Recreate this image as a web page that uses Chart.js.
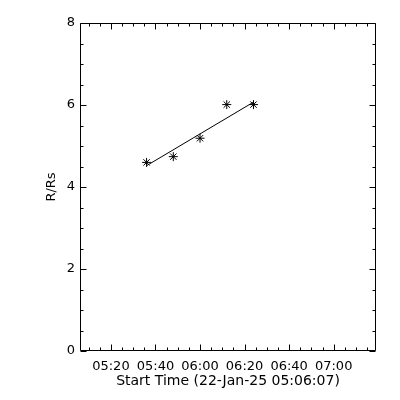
<!DOCTYPE html>
<html>
<head>
<meta charset="utf-8">
<script src="https://cdn.jsdelivr.net/npm/chart.js@4/dist/chart.umd.min.js"></script>
<style>
html,body{margin:0;padding:0;background:#fff;}
#c{display:block;}
</style>
</head>
<body>
<canvas id="c" width="400" height="400"></canvas>
<script>
// ---- data ----
const startTimeLabel = "22-Jan-25 05:06:07";
const obsTimes = ["05:36", "05:48", "06:00", "06:12", "06:24"];
const heights = [4.60, 4.74, 5.19, 6.01, 6.01];
const fitTimes = ["05:36", "06:24"];
const fitHeights = [4.52, 6.07];
const xTickLabels = ["05:20", "05:40", "06:00", "06:20", "06:40", "07:00"];
const yTickValues = [0, 2, 4, 6, 8];
const xRange = ["05:06:07", "07:19:00"];
const yRange = [0, 8];

function toMin(s) {
  const p = s.split(":").map(Number);
  return (p[0] - 5) * 60 + p[1] + (p[2] || 0) / 60;
}
function fromMin(m) {
  const h = 5 + Math.floor(m / 60);
  const mm = Math.round(m % 60);
  return String(h).padStart(2, "0") + ":" + String(mm).padStart(2, "0");
}
const xTickValues = xTickLabels.map(toMin);

const FONT = {family: "'DejaVu Sans'", size: 13};
const TFONT = {family: "'DejaVu Sans'", size: 14};

const frameTicks = {
  id: 'frameTicks',
  afterDraw(chart) {
    const {ctx, chartArea: a, scales: {x, y}} = chart;
    ctx.save();
    ctx.strokeStyle = '#000';
    ctx.lineWidth = 1;
    const L = Math.round(a.left) + 0.5, R = Math.round(a.right) - 0.5;
    const T = Math.round(a.top) + 0.5, B = Math.round(a.bottom) - 0.5;
    ctx.beginPath();
    ctx.rect(L, T, R - L, B - T);
    const x0 = Math.ceil(x.min / 5) * 5;
    for (let v = x0; v <= x.max; v += 5) {
      const px = Math.round(x.getPixelForValue(v)) + 0.5;
      const len = (v % 20 === 0) ? 6 : 3;
      ctx.moveTo(px, B); ctx.lineTo(px, B - len);
      ctx.moveTo(px, T); ctx.lineTo(px, T + len);
    }
    for (let v = y.min; v <= y.max + 1e-9; v += 0.5) {
      const py = Math.round(y.getPixelForValue(v)) + 0.5;
      const len = (Math.abs(v % 2) < 1e-9) ? 6 : 3;
      ctx.moveTo(L, py); ctx.lineTo(L + len, py);
      ctx.moveTo(R, py); ctx.lineTo(R - len, py);
    }
    ctx.stroke();
    ctx.restore();
  }
};

const bg = {
  id: 'bg',
  beforeDraw(chart) {
    const ctx = chart.ctx;
    ctx.save(); ctx.fillStyle = '#fff'; ctx.fillRect(0, 0, chart.width, chart.height); ctx.restore();
  }
};

new Chart(document.getElementById('c'), {
  type: 'scatter',
  data: {
    datasets: [
      {
        data: obsTimes.map((t, i) => ({x: toMin(t), y: heights[i]})),
        showLine: false,
        pointStyle: 'star',
        pointRadius: 4.5,
        pointBorderWidth: 1,
        borderColor: '#000',
        backgroundColor: '#000'
      },
      {
        data: fitTimes.map((t, i) => ({x: toMin(t), y: fitHeights[i]})),
        showLine: true,
        pointRadius: 0,
        borderWidth: 1,
        borderColor: '#000'
      }
    ]
  },
  options: {
    responsive: false,
    animation: false,
    devicePixelRatio: 1,
    layout: {padding: {top: 23, right: 24, left: 0, bottom: 0}},
    plugins: {legend: {display: false}, tooltip: {enabled: false}},
    scales: {
      x: {
        type: 'linear',
        min: toMin(xRange[0]),
        max: toMin(xRange[1]),
        grid: {display: false, drawTicks: false},
        border: {display: false},
        afterBuildTicks: s => { s.ticks = xTickValues.map(v => ({value: v})); },
        afterFit: s => { s.height = 49; },
        ticks: {
          autoSkip: false, maxRotation: 0, padding: 8,
          color: '#000', font: FONT,
          callback: v => fromMin(v)
        },
        title: {
          display: true,
          text: 'Start Time (' + startTimeLabel + ')',
          color: '#000', font: TFONT,
          padding: {top: 0, bottom: 10}
        }
      },
      y: {
        type: 'linear',
        min: yRange[0],
        max: yRange[1],
        grid: {display: false, drawTicks: false},
        border: {display: false},
        afterBuildTicks: s => { s.ticks = yTickValues.map(v => ({value: v})); },
        afterFit: s => { s.width = 80; },
        ticks: {padding: 5, color: '#000', font: FONT},
        title: {
          display: true, text: 'R/Rs',
          color: '#000', font: FONT,
          padding: {top: 44, bottom: 0}
        }
      }
    }
  },
  plugins: [bg, frameTicks]
});
</script>
</body>
</html>
